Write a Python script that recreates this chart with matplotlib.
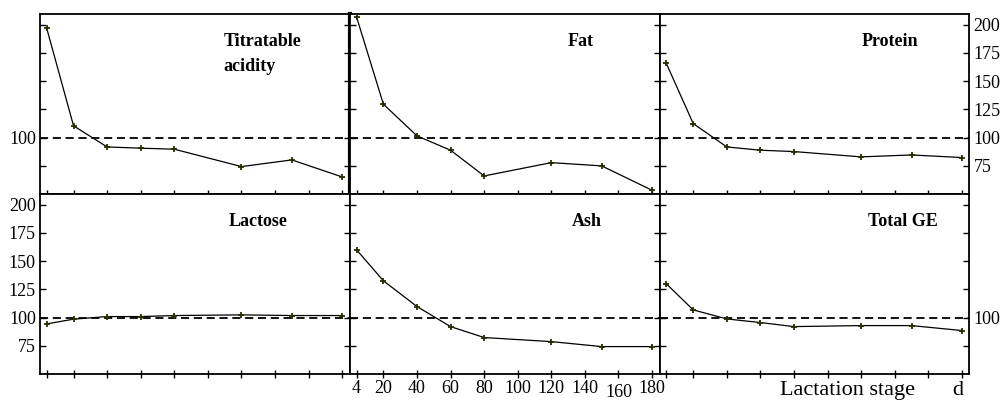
import matplotlib
matplotlib.use("Agg")
import matplotlib.pyplot as plt
from matplotlib.ticker import FixedLocator, NullFormatter, FixedFormatter

# Lactation stage (days) at which milk was sampled
days = [4, 20, 40, 60, 80, 120, 150, 180]

# Relative values (%, mean of whole lactation = 100)
titratable_acidity = [197.0, 110.4, 91.7, 90.6, 89.7, 74.3, 80.2, 65.1]
fat = [207.0, 129.6, 101.5, 88.8, 66.0, 77.8, 74.9, 53.3]
protein = [165.7, 112.4, 91.7, 88.8, 87.6, 82.9, 84.6, 82.3]
lactose = [94.4, 98.6, 100.9, 100.9, 101.8, 102.4, 101.8, 101.8]
ash = [160.1, 132.6, 109.8, 92.0, 82.3, 78.7, 74.3, 74.3]
total_ge = [129.9, 106.8, 98.8, 95.6, 92.0, 92.9, 92.9, 88.5]

panel_titles = ["Titratable\nacidity", "Fat", "Protein", "Lactose", "Ash", "Total GE"]
x_ticks = [4, 20, 40, 60, 80, 100, 120, 140, 160, 180]
x_tick_labels = ["4", "20", "40", "60", "80", "100", "120", "140", "160", "180"]
y_ticks = [75, 100, 125, 150, 175, 200]
y_tick_labels = ["75", "100", "125", "150", "175", "200"]
reference_level = 100
x_label = "Lactation stage"
x_unit = "d"

series = [titratable_acidity, fat, protein, lactose, ash, total_ge]

SERIF = ["Liberation Serif", "DejaVu Serif"]
plt.rcParams["font.family"] = SERIF

fig, axes = plt.subplots(2, 3, figsize=(10.04, 4.0), dpi=100)
fig.subplots_adjust(left=0.0398, right=0.9656, top=0.965, bottom=0.065,
                    wspace=0, hspace=0)

title_x = [0.592, 0.703, 0.652, 0.608, 0.716, 0.671]

for i, ax in enumerate(axes.flat):
    row, col = divmod(i, 3)
    values = series[i]

    ax.axhline(reference_level, color="black", lw=1.3,
               linestyle=(0, (4.5, 2.6)), zorder=1)
    ax.plot(days, values, color="black", lw=0.9, zorder=2)
    ax.plot(days, values, linestyle="none", marker="+", ms=4.5, mew=1.3,
            color="#2b2b00", zorder=3)

    ax.set_xlim(0, 184.5)
    ax.set_ylim(50, 209.5)

    for s in ax.spines.values():
        s.set_linewidth(1.3)
        s.set_color("black")

    ax.xaxis.set_major_locator(FixedLocator(x_ticks))
    ax.yaxis.set_major_locator(FixedLocator(y_ticks))
    ax.tick_params(axis="x", direction="inout", length=6, width=1.0,
                   top=False, bottom=True, labelsize=13, pad=1)
    ax.tick_params(axis="y", direction="in", length=4, width=1.0,
                   left=True, right=True, labelsize=13, pad=3,
                   labelleft=False, labelright=False)

    # x tick labels only under the lower middle panel
    if row == 1 and col == 1:
        ax.xaxis.set_major_formatter(FixedFormatter(x_tick_labels))
        for lbl, val in zip(ax.get_xticklabels(), x_ticks):
            if val == 160:
                lbl.set_y(-0.025)
    else:
        ax.xaxis.set_major_formatter(NullFormatter())

    # y tick labels
    only_ref = [t if t == str(reference_level) else "" for t in y_tick_labels]
    if row == 0 and col == 0:
        ax.yaxis.set_major_formatter(FixedFormatter(only_ref))
        ax.tick_params(axis="y", labelleft=True)
    elif row == 0 and col == 2:
        ax.yaxis.set_major_formatter(FixedFormatter(y_tick_labels))
        ax.tick_params(axis="y", labelright=True)
    elif row == 1 and col == 0:
        ax.yaxis.set_major_formatter(FixedFormatter(y_tick_labels))
        ax.tick_params(axis="y", labelleft=True)
    elif row == 1 and col == 2:
        ax.yaxis.set_major_formatter(FixedFormatter(only_ref))
        ax.tick_params(axis="y", labelright=True)

    ax.text(title_x[i], 0.895, panel_titles[i], transform=ax.transAxes,
            ha="left", va="top", fontsize=13, fontweight="bold",
            linespacing=1.6)

# heavier divider between the first two upper panels
axes[0, 0].spines["right"].set_linewidth(3)

fig.text(780 / 1004, 0.0, x_label, ha="left", va="bottom", fontsize=16)
fig.text(952 / 1004, 0.0, x_unit, ha="left", va="bottom", fontsize=16)

fig.savefig("out.png", dpi=100)
